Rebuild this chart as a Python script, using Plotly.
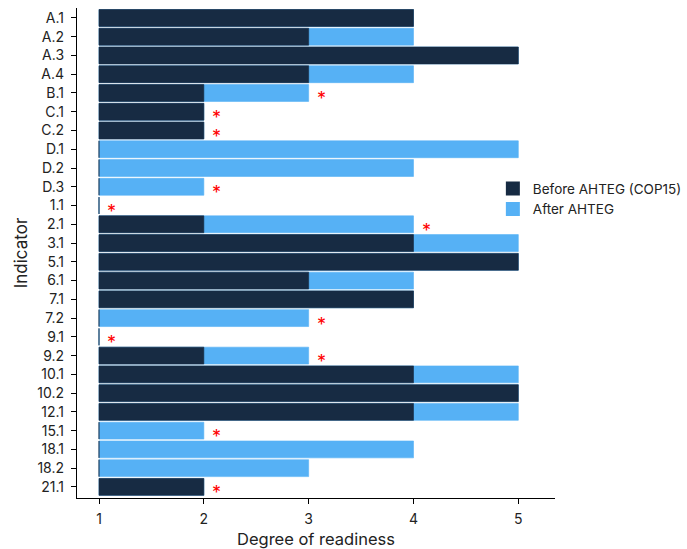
import plotly.graph_objects as go

indicators = ["A.1", "A.2", "A.3", "A.4", "B.1", "C.1", "C.2", "D.1", "D.2", "D.3",
              "1.1", "2.1", "3.1", "5.1", "6.1", "7.1", "7.2", "9.1", "9.2", "10.1",
              "10.2", "12.1", "15.1", "18.1", "18.2", "21.1"]
before = [4, 3, 5, 3, 2, 2, 2, 1, 1, 1, 1, 2, 4, 5, 3, 4, 1, 1, 2, 4, 5, 4, 1, 1, 1, 2]
after = [4, 4, 5, 4, 3, 2, 2, 5, 4, 2, 1, 4, 5, 5, 4, 4, 3, 1, 3, 5, 5, 5, 2, 4, 3, 2]
flagged = [False, False, False, False, True, True, True, False, False, True,
           True, True, False, False, False, False, True, True, True, False,
           False, False, True, False, False, True]

DARK = "#172B43"
LIGHT = "#56B1F5"
BASE = 1

fig = go.Figure()
fig.add_trace(go.Bar(
    y=indicators, x=[a - BASE for a in after], base=BASE, orientation="h",
    name="After AHTEG", marker=dict(color=LIGHT, line=dict(color=LIGHT, width=0.6)),
    width=0.9, hoverinfo="skip"))
fig.add_trace(go.Bar(
    y=indicators, x=[b - BASE for b in before], base=BASE, orientation="h",
    name="Before AHTEG (COP15)", marker=dict(color=DARK, line=dict(color=DARK, width=0.6)),
    width=0.9, hoverinfo="skip"))

# category axis: annotations are placed by category index
for i, (a, f) in enumerate(zip(after, flagged)):
    if f:
        fig.add_annotation(x=a + 0.12, y=i, text="*", showarrow=False,
                           xanchor="center", yanchor="middle", yshift=-6,
                           font=dict(color="#FF0000", size=18, family="Inter"))

fig.update_layout(
    width=687, height=549,
    margin=dict(l=77, r=132, t=8, b=51, autoexpand=False),
    barmode="overlay",
    plot_bgcolor="white", paper_bgcolor="white",
    font=dict(family="Inter", size=14, color="#222222"),
    legend=dict(x=0.87, y=0.61, xanchor="left", yanchor="middle",
                traceorder="reversed", font=dict(size=13.5),
                bgcolor="rgba(0,0,0,0)", itemsizing="constant"),
    xaxis=dict(range=[0.79, 5.35], tickvals=[1, 2, 3, 4, 5], automargin=False,
               showline=True, linecolor="black", linewidth=1.3,
               ticks="outside", ticklen=5, tickcolor="black", ticklabelstandoff=3,
               showgrid=False, zeroline=False,
               title=dict(text="Degree of readiness", font=dict(size=16.5), standoff=8)),
    yaxis=dict(type="category", categoryorder="array", categoryarray=indicators,
               automargin=False, range=[25.59, -0.53],
               showline=True, linecolor="black", linewidth=1.3,
               ticks="outside", ticklen=5, tickcolor="black", ticklabelstandoff=4,
               showgrid=False, zeroline=False,
               title=dict(text="Indicator", font=dict(size=17), standoff=5)),
)

fig.write_html("out.html", config={"displayModeBar": False},
               post_script="document.body.style.margin='0px';")
